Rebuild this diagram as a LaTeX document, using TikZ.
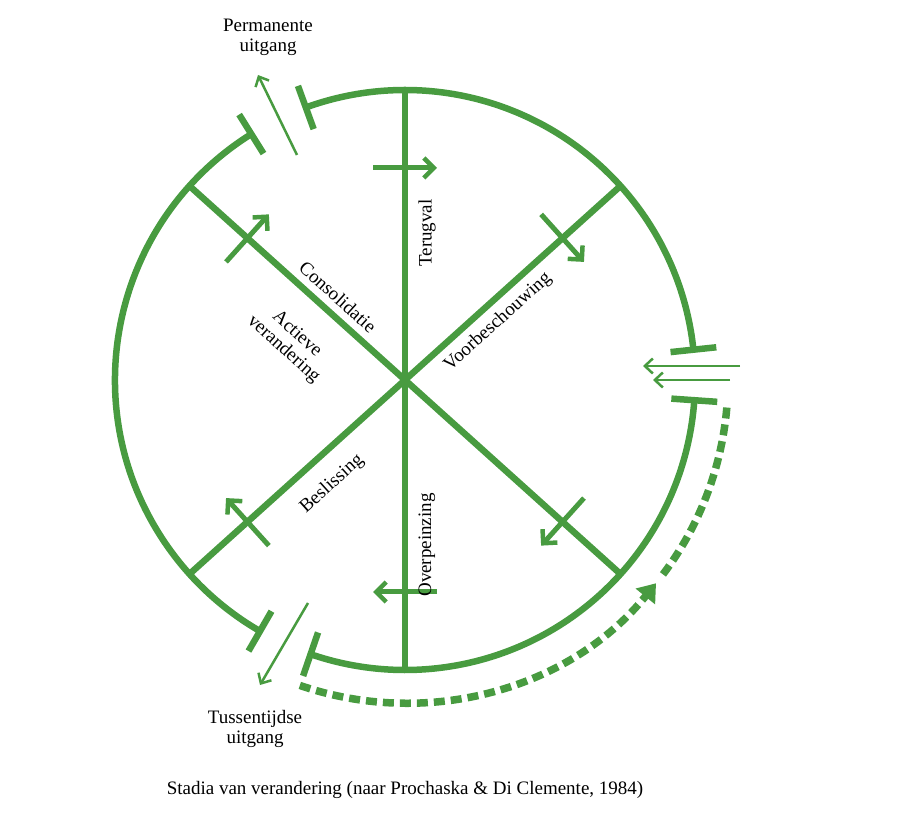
\documentclass[tikz,border=0pt]{standalone}
\usepackage{fontspec}
\setmainfont{Liberation Serif}
\usetikzlibrary{arrows.meta,calc}
\definecolor{stagegreen}{RGB}{72,155,64}

\begin{document}
\begin{tikzpicture}[x=1pt,y=1pt,
    ring/.style={stagegreen,line width=6.5pt},
    flow/.style={stagegreen,line width=5pt,-{Straight Barb[length=10pt,width=20pt,line width=4.5pt]}},
    exit/.style={stagegreen,line width=2.5pt,-{Straight Barb[length=8pt,width=15pt,line width=2.5pt]}},
    stage/.style={font=\fontsize{19}{20}\selectfont,align=center,inner sep=0pt},
    caption/.style={font=\fontsize{19}{20}\selectfont,align=center}]
    \useasboundingbox (0,0) rectangle (907,827);

    \begin{scope}[shift={(405,447)}]
    % ring with three openings
    \draw[ring] (6:290) arc[start angle=6,end angle=110,radius=290];
    \draw[ring] (122:290) arc[start angle=122,end angle=240,radius=290];
    \draw[ring] (251:290) arc[start angle=251,end angle=356,radius=290];
    \foreach \a in {6,110,122,240,251,356}
        \draw[ring] (\a:267) -- (\a:313);

    % spokes
    \foreach \a in {42,90,138}
        \draw[ring] (\a:290) -- (\a+180:290);

    % clockwise arrows on the spokes
    \foreach \a in {42,90,138,222,270,318}
        \draw[flow] ($(\a:212)+(\a+90:32)$) -- ($(\a:212)+(\a-90:32)$);

    % dashed return path
    \draw[stagegreen,line width=7.5pt,dash pattern=on 11pt off 6pt,
        -{Triangle[length=17pt,width=24pt]}]
        (251:323) arc[start angle=251,end angle=321,radius=323];
    \draw[stagegreen,line width=7.5pt,dash pattern=on 11pt off 6pt]
        (323:323) arc[start angle=323,end angle=356,radius=323];
    \end{scope}

    % exits
    \draw[exit] (297,672) -- (258,752);
    \draw[exit] (740,461) -- (643,461);
    \draw[exit] (730,447) -- (653,447);
    \draw[exit] (308,224) -- (260,142);

    % labels
    \node[stage,rotate=90] (terugval) at (427,594) {Terugval};
    \node[stage,rotate=42] (voorbeschouwing) at (498,505) {Voorbeschouwing};
    \node[stage,rotate=-42] (consolidatie) at (338,530) {Consolidatie};
    \node[stage,rotate=-42] (actief) at (290,485) {Actieve\\verandering};
    \node[stage,rotate=42] (beslissing) at (332,343) {Beslissing};
    \node[stage,rotate=90] (overpeinzing) at (427,282) {Overpeinzing};

    \node[caption] (permanent) at (268,790) {Permanente\\uitgang};
    \node[caption] (tussentijds) at (255,98) {Tussentijdse\\uitgang};
    \node[caption] (titel) at (405,37) {Stadia van verandering (naar Prochaska \& Di Clemente, 1984)};
\end{tikzpicture}
\end{document}
